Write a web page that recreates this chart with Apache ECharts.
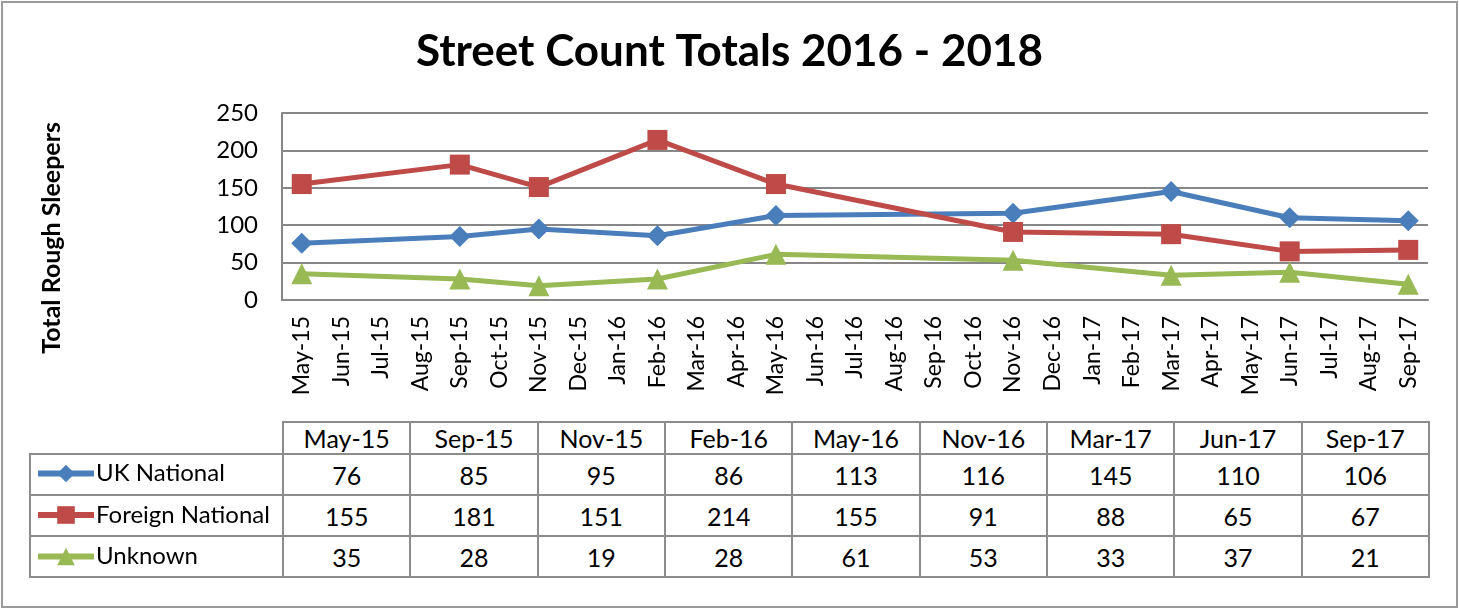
<!DOCTYPE html>
<html>
<head>
<meta charset="utf-8">
<script src="https://cdn.jsdelivr.net/npm/echarts@6/dist/echarts.min.js"></script>
<style>
  html, body { margin: 0; padding: 0; background: #fff; }
  #wrap { position: relative; width: 1459px; height: 608px; overflow: hidden; }
  #frame { position: absolute; left: 1px; top: 1px; width: 1453px; height: 603px; border: 2px solid #9a9a9a; }
  #chart { position: absolute; left: 0; top: 0; width: 1459px; height: 608px; }
  #tbl { position: absolute; left: 29px; top: 421px; border-collapse: collapse; table-layout: fixed;
         font-family: Lato, sans-serif; font-size: 25px; color: #000; }
  #tbl td { border: 2px solid #8c8c8c; text-align: center; padding: 0; }
  #tbl td.blank { border: none; border-bottom: 2px solid #8c8c8c; }
</style>
</head>
<body>
<div id="wrap">
  <div id="frame"></div>
  <table id="tbl"></table>
  <div id="chart"></div>
</div>
<script>
// axis months (monthly date axis)
const months = ['May-15', 'Jun-15', 'Jul-15', 'Aug-15', 'Sep-15', 'Oct-15', 'Nov-15', 'Dec-15',
  'Jan-16', 'Feb-16', 'Mar-16', 'Apr-16', 'May-16', 'Jun-16', 'Jul-16', 'Aug-16', 'Sep-16', 'Oct-16',
  'Nov-16', 'Dec-16', 'Jan-17', 'Feb-17', 'Mar-17', 'Apr-17', 'May-17', 'Jun-17', 'Jul-17', 'Aug-17', 'Sep-17']

// months that have a street count
const countMonths = ['May-15', 'Sep-15', 'Nov-15', 'Feb-16', 'May-16', 'Nov-16', 'Mar-17', 'Jun-17', 'Sep-17']

const ukNational = [76, 85, 95, 86, 113, 116, 145, 110, 106]
const foreignNational = [155, 181, 151, 214, 155, 91, 88, 65, 67]
const unknown = [35, 28, 19, 28, 61, 53, 33, 37, 21]

const seriesDefs = [
  { name: 'UK National', values: ukNational, color: '#4a7ebb', symbol: 'diamond', size: 21 },
  { name: 'Foreign National', values: foreignNational, color: '#be4b48', symbol: 'rect', size: 20 },
  { name: 'Unknown', values: unknown, color: '#98b954', symbol: 'triangle', size: 21 },
]

const font = 'Lato, sans-serif'

// data table under the chart
const colW = 1146 / countMonths.length
let html = '<colgroup><col style="width:253px">' + countMonths.map(() => `<col style="width:${colW}px">`).join('') + '</colgroup>'
html += '<tr style="height:32px"><td class="blank"></td>' + countMonths.map(m => `<td>${m}</td>`).join('') + '</tr>'
seriesDefs.forEach(s => {
  html += '<tr style="height:41px"><td></td>' + s.values.map(v => `<td>${v}</td>`).join('') + '</tr>'
})
document.getElementById('tbl').innerHTML = html

// spread the counts onto the monthly axis
function toAxis(values) {
  const arr = months.map(() => null)
  countMonths.forEach((m, i) => { arr[months.indexOf(m)] = values[i] })
  return arr
}

const chart = echarts.init(document.getElementById('chart'))
const rowCenters = [473.5, 515, 556.5]

chart.setOption({
  animation: false,
  title: {
    text: 'Street Count Totals 2016 - 2018',
    left: 'center',
    top: 25,
    textStyle: { fontFamily: font, fontSize: 44, fontWeight: 'bold', color: '#000' },
  },
  legend: seriesDefs.map((s, i) => ({
    data: [s.name],
    left: 35,
    top: rowCenters[i] - 13,
    padding: 0,
    itemWidth: 56,
    itemHeight: 22,
    itemGap: 0,
    selectedMode: false,
    lineStyle: { width: 6 },
    textStyle: { fontFamily: font, fontSize: 24, lineHeight: 26, color: '#000', padding: [0, 0, 0, -3] },
  })),
  graphic: [{
    type: 'text',
    left: 39,
    top: 122,
    rotation: Math.PI / 2,
    style: { text: 'Total Rough Sleepers', font: 'bold 25px Lato, sans-serif', fill: '#000' },
  }],
  grid: { left: 282, top: 113, right: 31, bottom: 308 },
  xAxis: {
    type: 'category',
    data: months,
    boundaryGap: true,
    axisLine: { lineStyle: { color: '#878787', width: 2 } },
    axisTick: { show: false },
    axisLabel: { rotate: 90, interval: 0, margin: 16, fontFamily: font, fontSize: 23, color: '#000' },
  },
  yAxis: {
    type: 'value',
    min: 0,
    max: 250,
    interval: 50,
    axisLine: { show: true, lineStyle: { color: '#878787', width: 2 } },
    axisTick: { show: false },
    splitLine: { lineStyle: { color: '#878787', width: 2 } },
    axisLabel: { margin: 24, fontFamily: font, fontSize: 24, color: '#000' },
  },
  series: seriesDefs.map(s => ({
    name: s.name,
    type: 'line',
    data: toAxis(s.values),
    connectNulls: true,
    symbol: s.symbol,
    symbolSize: s.size,
    showAllSymbol: true,
    lineStyle: { color: s.color, width: 5 },
    itemStyle: { color: s.color },
  })),
})
</script>
</body>
</html>
